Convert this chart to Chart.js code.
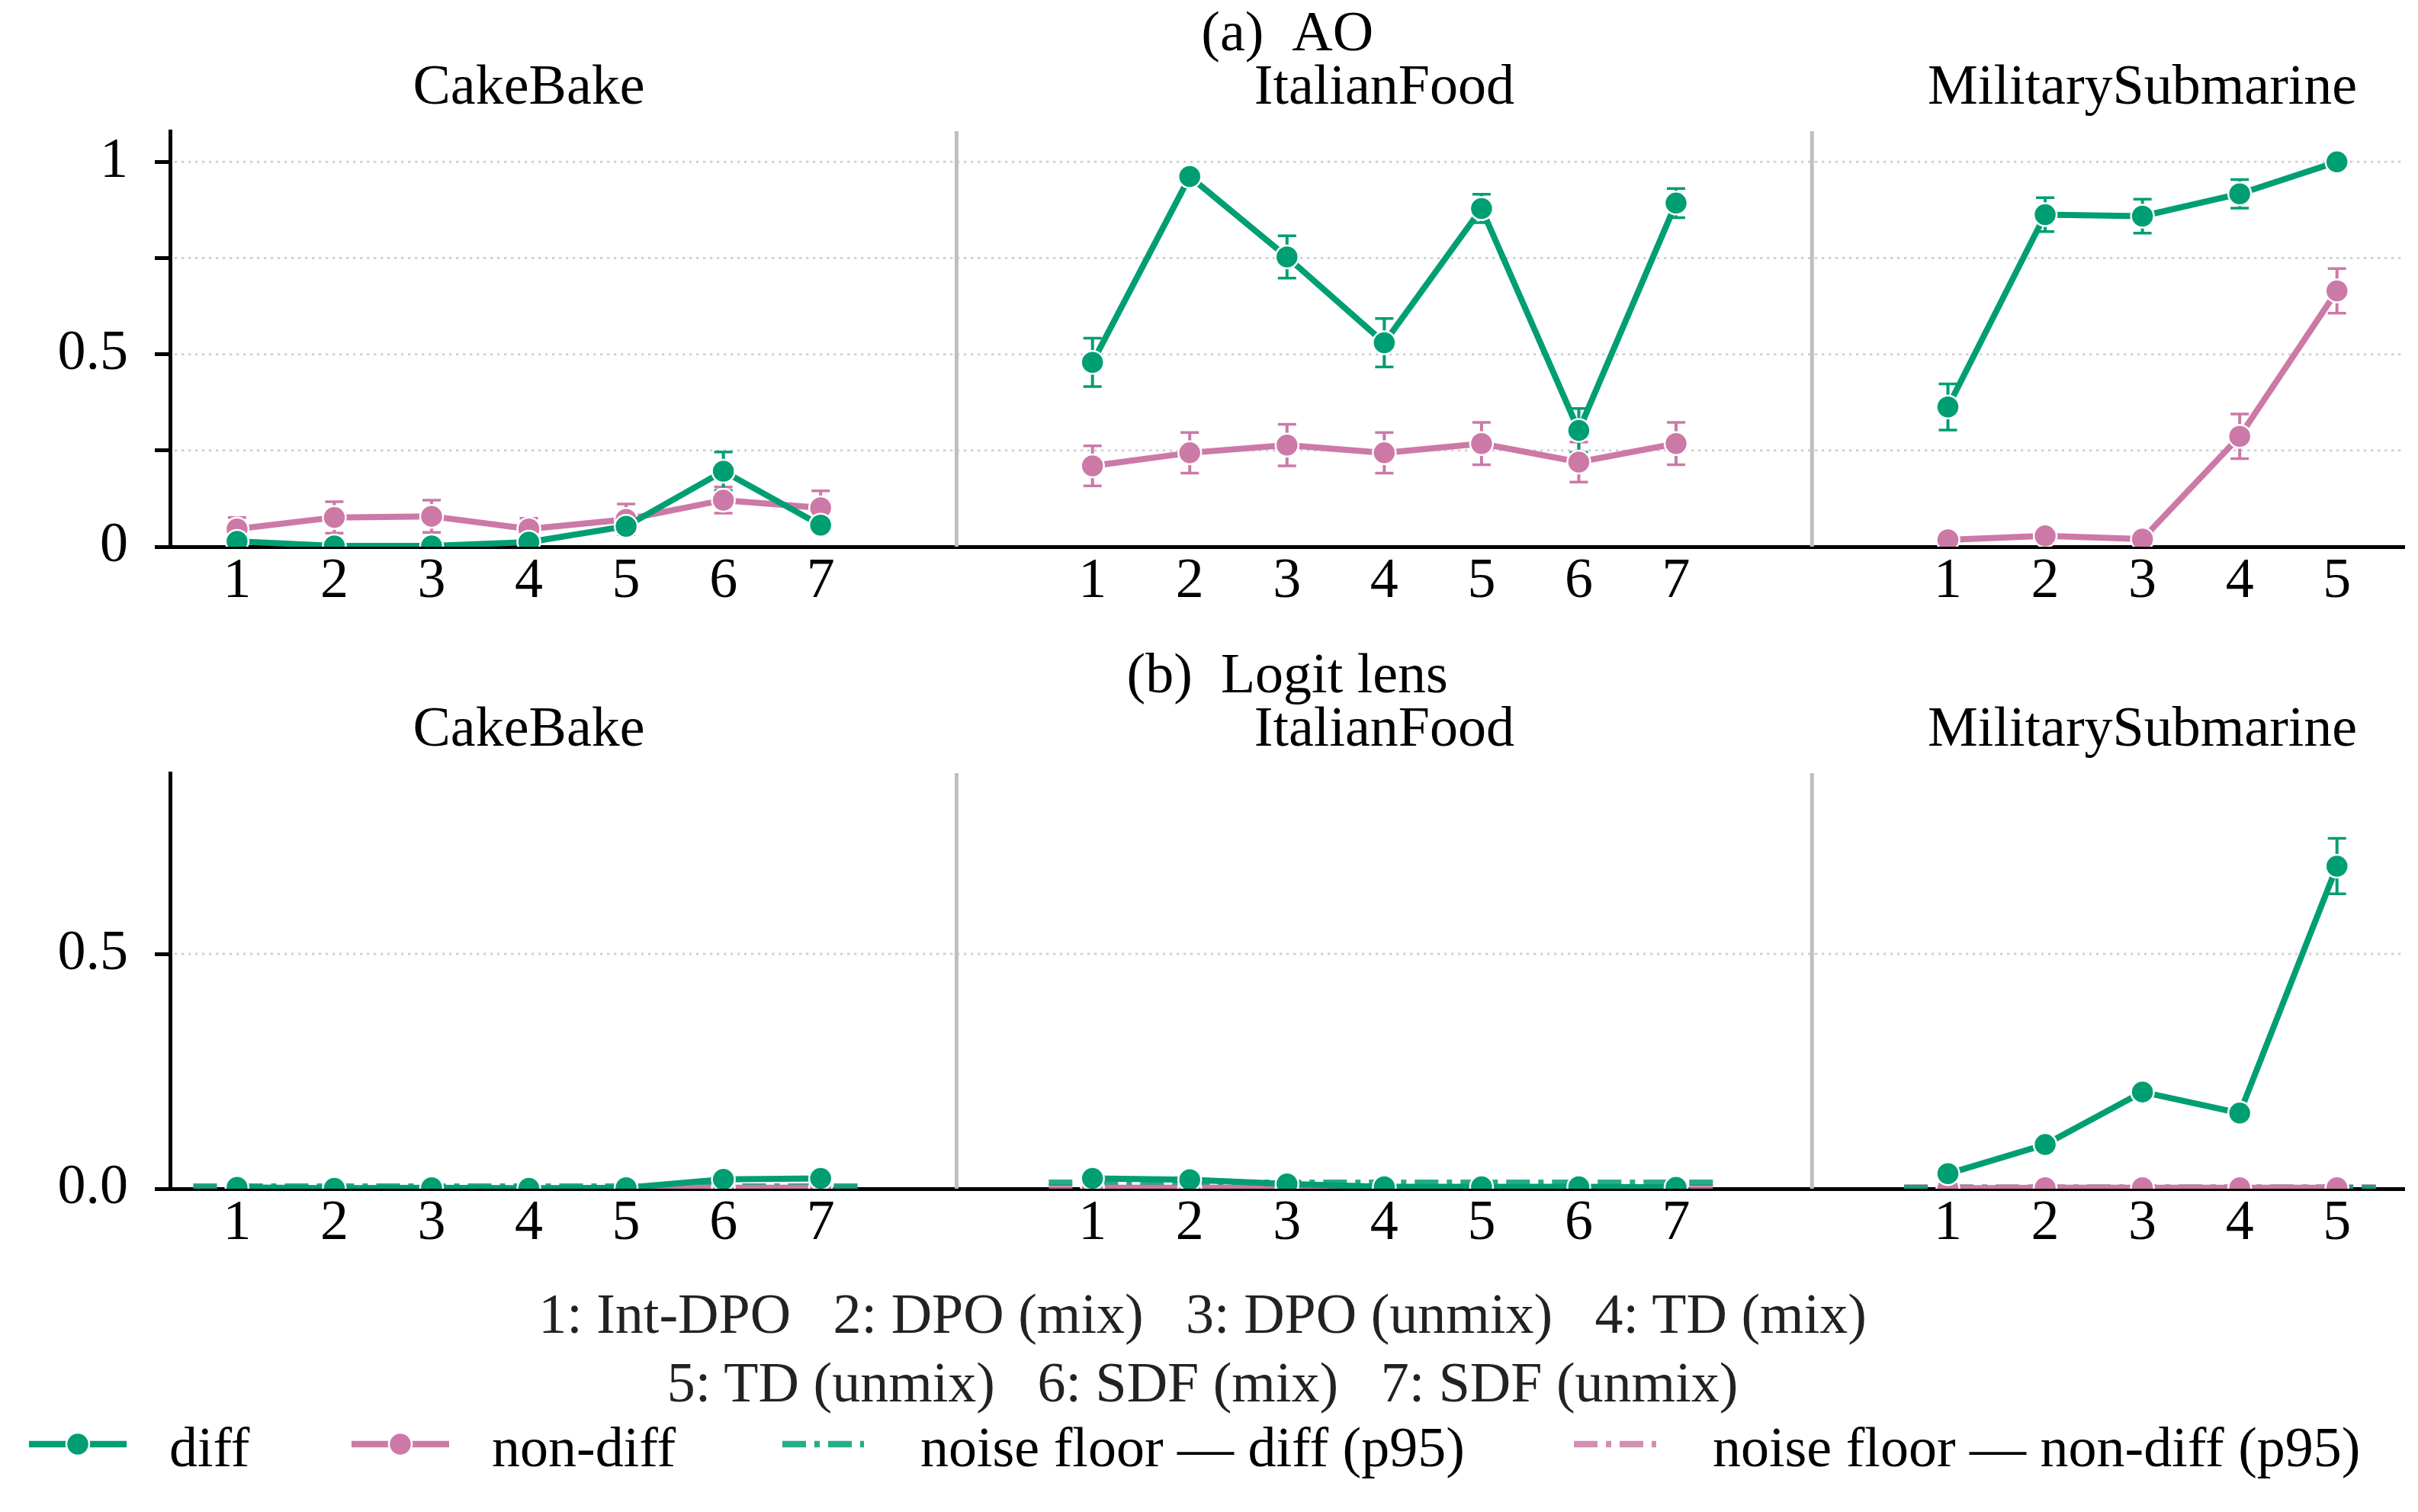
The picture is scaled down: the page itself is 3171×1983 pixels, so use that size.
<!DOCTYPE html>
<html>
<head>
<meta charset="utf-8">
<script src="https://cdn.jsdelivr.net/npm/chart.js@4.4.1/dist/chart.umd.min.js"></script>
<style>
  html, body { margin: 0; padding: 0; background: #fff; }
  body { width: 3171px; height: 1983px; position: relative; overflow: hidden;
         font-family: 'Liberation Serif', 'Times New Roman', serif; }
  canvas { position: absolute; left: 0; }
  #aoChart { top: 0; }
  #llChart { top: 842px; }
  .legend-line { position: absolute; left: 0; width: 3154px; text-align: center;
                 font-size: 74px; line-height: 74px; white-space: pre; color: #222; }
  .legend-text { position: absolute; font-size: 74px; line-height: 74px; white-space: pre; color: #000; }
  .legend-mark { position: absolute; }
</style>
</head>
<body>
<canvas id="aoChart" width="3171" height="842"></canvas>
<canvas id="llChart" width="3171" height="842"></canvas>
<div id="legend"></div>
<script>
// categories
const panelNames = ['CakeBake', 'ItalianFood', 'MilitarySubmarine'];
const methodNames = ['Int-DPO', 'DPO (mix)', 'DPO (unmix)', 'TD (mix)', 'TD (unmix)', 'SDF (mix)', 'SDF (unmix)'];
const panelSizes = [7, 7, 5];

// (a) AO  -- one array per panel
const aoDiffCake = [0.014, 0.002, 0.002, 0.012, 0.053, 0.196, 0.056];
const aoDiffCakeErr = [0.004, 0.002, 0.002, 0.004, 0.010, 0.050, 0.010];
const aoNonCake = [0.046, 0.076, 0.079, 0.046, 0.071, 0.121, 0.101];
const aoNonCakeErr = [0.030, 0.041, 0.042, 0.028, 0.040, 0.034, 0.044];

const aoDiffItalian = [0.479, 0.962, 0.753, 0.530, 0.879, 0.302, 0.893];
const aoDiffItalianErr = [0.063, 0.008, 0.055, 0.063, 0.037, 0.057, 0.038];
const aoNonItalian = [0.210, 0.244, 0.264, 0.244, 0.268, 0.220, 0.268];
const aoNonItalianErr = [0.052, 0.053, 0.054, 0.053, 0.055, 0.052, 0.055];

const aoDiffSub = [0.363, 0.863, 0.859, 0.917, 1.000];
const aoDiffSubErr = [0.060, 0.044, 0.044, 0.037, 0.000];
const aoNonSub = [0.018, 0.028, 0.020, 0.287, 0.665];
const aoNonSubErr = [0.010, 0.014, 0.006, 0.058, 0.058];

// (b) Logit lens
const llDiffCake = [0.003, 0.001, 0.002, 0.001, 0.002, 0.020, 0.022];
const llNonCake = [0.001, 0.001, 0.001, 0.001, 0.001, 0.002, 0.002];
const llDiffItalian = [0.022, 0.019, 0.010, 0.004, 0.004, 0.004, 0.003];
const llNonItalian = [0.002, 0.002, 0.002, 0.002, 0.002, 0.002, 0.002];
const llDiffSub = [0.032, 0.094, 0.206, 0.161, 0.687];
const llDiffSubErr = [0.004, 0.006, 0.006, 0.012, 0.059];
const llNonSub = [0.001, 0.002, 0.002, 0.002, 0.002];
// p95 noise floors per panel
const llNoiseDiff = [0.005, 0.013, 0.002];
const llNoiseNon = [0.002, 0.003, 0.003];

// tick labels
const aoYTicks = [0, 0.25, 0.5, 0.75, 1];
const aoYTickLabels = ['0', '', '0.5', '', '1'];
const llYTicks = [0, 0.5];
const llYTickLabels = ['0.0', '0.5'];

const DIFF = '#009E73';
const NONDIFF = '#CC79A7';
const DIFF_NOISE = 'rgba(0,158,115,0.85)';
const NON_NOISE = 'rgba(204,121,167,0.85)';
const FONT = "'Liberation Serif', 'Times New Roman', serif";
const PANEL_STEP = 8.795;   // distance between first ticks of neighbouring panels

Chart.defaults.font.family = FONT;
Chart.defaults.font.size = 74;
Chart.defaults.color = '#000';

function panelX(p) {
  return methodNames.slice(0, panelSizes[p]).map((_, i) => p * PANEL_STEP + i + 1);
}
const xTickPos = [].concat(...panelSizes.map((_, p) => panelX(p)));
const xTickLabels = [].concat(...panelSizes.map(n => methodNames.slice(0, n).map((_, i) => String(i + 1))));
const separators = [1, 2].map(p => (panelX(p - 1)[panelSizes[p - 1] - 1] + panelX(p)[0]) / 2);

function lineSet(label, color, values, errors, p, order) {
  const xs = panelX(p);
  return {
    label, order, errors,
    data: values.map((v, i) => ({ x: xs[i], y: v })),
    borderColor: color, backgroundColor: color,
    borderWidth: 8, tension: 0, clip: 0,
    pointRadius: 15, pointBorderWidth: 2.5, pointBorderColor: '#fff', pointBackgroundColor: color
  };
}

function noiseSet(label, color, value, p) {
  const xs = panelX(p);
  return {
    label, order: 3,
    data: [{ x: xs[0] - 0.45, y: value }, { x: xs[xs.length - 1] + 0.4, y: value }],
    borderColor: color, borderWidth: 8, borderDash: [31, 11, 7, 11],
    pointRadius: 0, clip: 0
  };
}

// dotted grid lines, grey panel separators and error bars
const panelFrame = {
  id: 'panelFrame',
  beforeDatasetsDraw(chart, args, opts) {
    const { ctx, chartArea, scales: { x, y } } = chart;
    ctx.save();
    ctx.strokeStyle = '#d2d2d2';
    ctx.lineWidth = 3;
    ctx.setLineDash([3.3, 5.7]);
    opts.grid.forEach(v => {
      if (v === 0) return;
      const py = y.getPixelForValue(v);
      ctx.beginPath(); ctx.moveTo(chartArea.left + 6, py); ctx.lineTo(chartArea.right, py); ctx.stroke();
    });
    ctx.setLineDash([]);
    ctx.strokeStyle = '#bfbfbf';
    ctx.lineWidth = 5;
    separators.forEach(s => {
      const px = x.getPixelForValue(s);
      ctx.beginPath(); ctx.moveTo(px, chartArea.top); ctx.lineTo(px, chartArea.bottom); ctx.stroke();
    });
    // error bars sit under the markers
    ctx.beginPath(); ctx.rect(chartArea.left, chartArea.top, chartArea.width, chartArea.height); ctx.clip();
    chart.data.datasets.forEach(ds => {
      if (!ds.errors) return;
      ctx.strokeStyle = ds.borderColor;
      ds.data.forEach((pt, i) => {
        const e = ds.errors[i];
        if (!e) return;
        const px = x.getPixelForValue(pt.x);
        const top = y.getPixelForValue(pt.y + e);
        const bot = y.getPixelForValue(pt.y - e);
        ctx.lineWidth = 4;
        ctx.beginPath(); ctx.moveTo(px, top); ctx.lineTo(px, bot); ctx.stroke();
        ctx.lineWidth = 3.5;
        ctx.beginPath();
        ctx.moveTo(px - 12, top); ctx.lineTo(px + 12, top);
        ctx.moveTo(px - 12, bot); ctx.lineTo(px + 12, bot);
        ctx.stroke();
      });
    });
    ctx.restore();
  },
  afterDraw(chart, args, opts) {
    const { ctx, chartArea, scales: { x } } = chart;
    ctx.save();
    ctx.fillStyle = '#000';
    ctx.font = '74px ' + FONT;
    ctx.textAlign = 'center';
    ctx.textBaseline = 'alphabetic';
    ctx.fillText(opts.title, (chartArea.left + chartArea.right) / 2, 66);
    panelNames.forEach((name, p) => {
      const xs = panelX(p);
      ctx.fillText(name, x.getPixelForValue((xs[0] + xs[xs.length - 1]) / 2), 136);
    });
    ctx.restore();
  }
};

function makeRow(canvasId, title, datasets, yMax, yTicks, yTickLabels) {
  return new Chart(document.getElementById(canvasId), {
    type: 'line',
    data: { datasets },
    plugins: [panelFrame],
    options: {
      responsive: false,
      animation: false,
      layout: { padding: { top: 172, left: 0, right: 12, bottom: 0 } },
      plugins: {
        legend: { display: false },
        tooltip: { enabled: false },
        panelFrame: { title, grid: yTicks }
      },
      scales: {
        x: {
          type: 'linear', bounds: 'data', min: 0.311, max: 23.286, z: 1,
          afterBuildTicks: s => { s.ticks = xTickPos.map(v => ({ value: v })); },
          afterFit: s => { s.height = 125; },
          ticks: { autoSkip: false, maxRotation: 0, padding: 2, callback: (v, i) => xTickLabels[i] },
          grid: { drawOnChartArea: false, drawTicks: false },
          border: { display: true, color: '#000', width: 5 }
        },
        y: {
          type: 'linear', bounds: 'data', min: 0, max: yMax, z: 1,
          afterBuildTicks: s => { s.ticks = yTicks.map(v => ({ value: v })); },
          afterFit: s => { s.width = 223; },
          ticks: { padding: 35, callback: (v, i) => yTickLabels[i] },
          grid: { drawOnChartArea: false, drawTicks: true, tickLength: 20, tickWidth: 5, tickColor: '#000' },
          border: { display: true, color: '#000', width: 5 }
        }
      }
    }
  });
}

makeRow('aoChart', '(a)  AO', [
  lineSet('non-diff', NONDIFF, aoNonCake, aoNonCakeErr, 0, 2),
  lineSet('diff', DIFF, aoDiffCake, aoDiffCakeErr, 0, 1),
  lineSet('non-diff', NONDIFF, aoNonItalian, aoNonItalianErr, 1, 2),
  lineSet('diff', DIFF, aoDiffItalian, aoDiffItalianErr, 1, 1),
  lineSet('non-diff', NONDIFF, aoNonSub, aoNonSubErr, 2, 2),
  lineSet('diff', DIFF, aoDiffSub, aoDiffSubErr, 2, 1)
], 1.08, aoYTicks, aoYTickLabels);

makeRow('llChart', '(b)  Logit lens', [
  noiseSet('noise floor — diff (p95)', DIFF_NOISE, llNoiseDiff[0], 0),
  noiseSet('noise floor — non-diff (p95)', NON_NOISE, llNoiseNon[0], 0),
  lineSet('non-diff', NONDIFF, llNonCake, null, 0, 2),
  lineSet('diff', DIFF, llDiffCake, null, 0, 1),
  noiseSet('noise floor — diff (p95)', DIFF_NOISE, llNoiseDiff[1], 1),
  noiseSet('noise floor — non-diff (p95)', NON_NOISE, llNoiseNon[1], 1),
  lineSet('non-diff', NONDIFF, llNonItalian, null, 1, 2),
  lineSet('diff', DIFF, llDiffItalian, null, 1, 1),
  noiseSet('noise floor — diff (p95)', DIFF_NOISE, llNoiseDiff[2], 2),
  noiseSet('noise floor — non-diff (p95)', NON_NOISE, llNoiseNon[2], 2),
  lineSet('non-diff', NONDIFF, llNonSub, null, 2, 2),
  lineSet('diff', DIFF, llDiffSub, llDiffSubErr, 2, 1)
], 0.885, llYTicks, llYTickLabels);

// legend below the charts
const legend = document.getElementById('legend');
const methodText = methodNames.map((m, i) => (i + 1) + ': ' + m);
const legendLines = [methodText.slice(0, 4).join('   '), methodText.slice(4).join('   ')];
[1686, 1776].forEach((top, i) => {
  const d = document.createElement('div');
  d.className = 'legend-line';
  d.style.top = top + 'px';
  d.textContent = legendLines[i];
  legend.appendChild(d);
});

const legendItems = [
  { text: 'diff', color: DIFF, marker: true, mx: 38, mw: 128, tx: 222 },
  { text: 'non-diff', color: NONDIFF, marker: true, mx: 461, mw: 128, tx: 645 },
  { text: 'noise floor — diff (p95)', color: DIFF_NOISE, marker: false, mx: 1026, mw: 107, tx: 1207 },
  { text: 'noise floor — non-diff (p95)', color: NON_NOISE, marker: false, mx: 2064, mw: 108, tx: 2246 }
];
legendItems.forEach(it => {
  const svgNS = 'http://www.w3.org/2000/svg';
  const svg = document.createElementNS(svgNS, 'svg');
  svg.setAttribute('width', it.mw);
  svg.setAttribute('height', 36);
  svg.setAttribute('class', 'legend-mark');
  svg.style.left = it.mx + 'px';
  svg.style.top = (1894 - 18) + 'px';
  const ln = document.createElementNS(svgNS, 'line');
  ln.setAttribute('x1', 0); ln.setAttribute('x2', it.mw);
  ln.setAttribute('y1', 18); ln.setAttribute('y2', 18);
  ln.setAttribute('stroke', it.color);
  ln.setAttribute('stroke-width', 8.5);
  if (!it.marker) ln.setAttribute('stroke-dasharray', '31 11 7 11');
  svg.appendChild(ln);
  if (it.marker) {
    const c = document.createElementNS(svgNS, 'circle');
    c.setAttribute('cx', it.mw / 2); c.setAttribute('cy', 18); c.setAttribute('r', 15);
    c.setAttribute('fill', it.color); c.setAttribute('stroke', '#fff'); c.setAttribute('stroke-width', 2.5);
    svg.appendChild(c);
  }
  legend.appendChild(svg);
  const t = document.createElement('div');
  t.className = 'legend-text';
  t.style.left = it.tx + 'px';
  t.style.top = (1923 - 62) + 'px';
  t.textContent = it.text;
  legend.appendChild(t);
});
</script>
</body>
</html>
